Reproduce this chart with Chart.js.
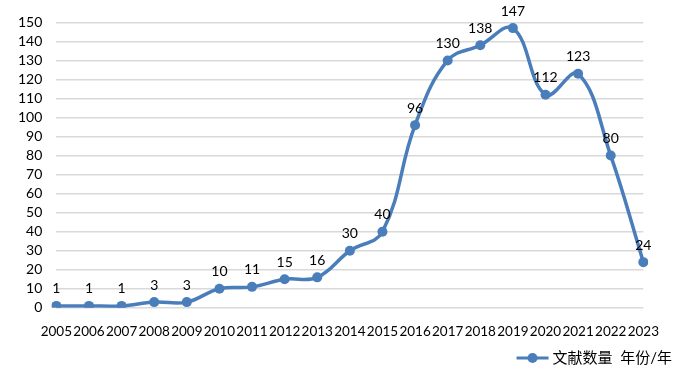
<!DOCTYPE html>
<html>
<head>
<meta charset="utf-8">
<script src="https://cdn.jsdelivr.net/npm/chart.js@4"></script>
<style>
  html, body { margin: 0; padding: 0; background: #fff; }
  #wrap { width: 675px; height: 373px; }
</style>
</head>
<body>
<div id="wrap"><canvas id="chart"></canvas></div>
<script>
const years = ["2005","2006","2007","2008","2009","2010","2011","2012","2013","2014","2015","2016","2017","2018","2019","2020","2021","2022","2023"];
const counts = [1, 1, 1, 3, 3, 10, 11, 15, 16, 30, 40, 96, 130, 138, 147, 112, 123, 80, 24];
const seriesLabel = "文献数量  年份/年";

const blue = "#4A7EBB";
const font = "Lato, 'Noto Sans CJK SC', sans-serif";

// value labels above each point
const valueLabels = {
  id: "valueLabels",
  afterDatasetsDraw(chart) {
    const ctx = chart.ctx;
    const meta = chart.getDatasetMeta(0);
    ctx.save();
    ctx.font = "14px " + font;
    ctx.fillStyle = "#000";
    ctx.textAlign = "center";
    ctx.textBaseline = "middle";
    meta.data.forEach((pt, i) => {
      ctx.fillText(String(counts[i]), pt.x, pt.y - 17);
    });
    ctx.restore();
  }
};

// legend in the bottom right corner: line with a dot, then the label
const cornerLegend = {
  id: "cornerLegend",
  afterDraw(chart) {
    const ctx = chart.ctx;
    const ds = chart.data.datasets[0];
    const right = chart.width - 3;
    const y = chart.height - 15;
    ctx.save();
    ctx.font = "15px " + font;
    ctx.fillStyle = "#000";
    ctx.textAlign = "right";
    ctx.textBaseline = "middle";
    ctx.fillText(ds.label, right, y);
    const tx = right - ctx.measureText(ds.label).width - 4;
    ctx.strokeStyle = ds.borderColor;
    ctx.lineWidth = 3;
    ctx.beginPath(); ctx.moveTo(tx - 32, y); ctx.lineTo(tx, y); ctx.stroke();
    ctx.fillStyle = ds.borderColor;
    ctx.beginPath(); ctx.arc(tx - 16, y, 5, 0, Math.PI * 2); ctx.fill();
    ctx.restore();
  }
};

new Chart(document.getElementById("chart"), {
  type: "line",
  data: {
    labels: years,
    datasets: [{
      label: seriesLabel,
      data: counts,
      borderColor: blue,
      backgroundColor: blue,
      borderWidth: 3.5,
      pointRadius: 5,
      pointHoverRadius: 5,
      pointBackgroundColor: blue,
      pointBorderWidth: 0,
      tension: 0.4,
      fill: false
    }]
  },
  options: {
    responsive: true,
    maintainAspectRatio: false,
    animation: false,
    layout: { padding: { top: 20, right: 3, left: 4, bottom: 17 } },
    plugins: {
      tooltip: { enabled: false },
      legend: { display: false }
    },
    scales: {
      x: {
        grid: { display: false, drawTicks: false },
        border: { display: false },
        ticks: {
          autoSkip: false,
          maxRotation: 0,
          color: "#000",
          font: { family: font, size: 13.5 },
          padding: 16
        }
      },
      y: {
        min: 0,
        max: 150,
        ticks: {
          stepSize: 10,
          autoSkip: false,
          color: "#000",
          font: { family: font, size: 14 },
          padding: 14
        },
        grid: { color: "#D9D9D9", lineWidth: 1.5, drawTicks: false },
        border: { display: false }
      },
      // empty right axis, only to leave a margin right of the plot
      yRight: {
        position: "right",
        grid: { display: false },
        border: { display: false },
        ticks: { display: false },
        afterFit(scale) { scale.width = 20; }
      }
    }
  },
  plugins: [valueLabels, cornerLegend]
});
</script>
</body>
</html>
